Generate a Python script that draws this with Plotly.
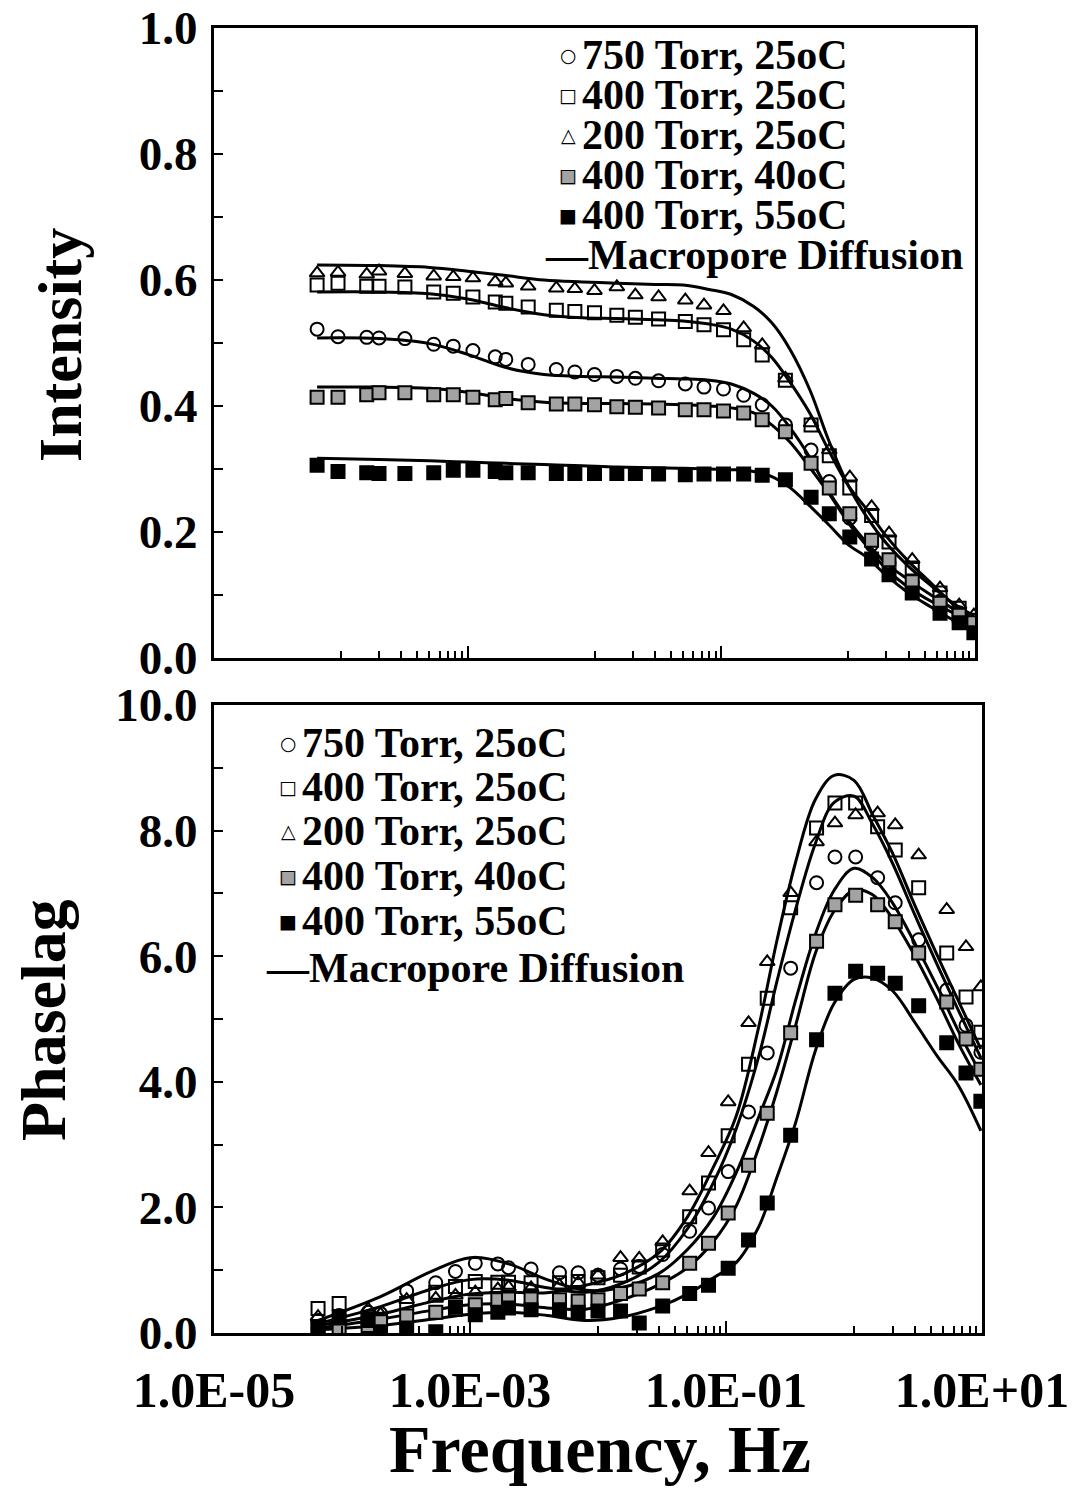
import plotly.graph_objects as go

# ---------------- data ----------------
# measurement frequencies, Hz
freq = [6.5e-5, 9.5e-5, 1.6e-4, 2.0e-4, 3.2e-4, 5.4e-4, 7.7e-4, 1.1e-3, 1.65e-3, 2.0e-3,
        3.0e-3, 5.0e-3, 7.0e-3, 1.0e-2, 1.5e-2, 2.1e-2, 3.2e-2, 5.2e-2, 7.3e-2, 0.104,
        0.15, 0.21, 0.32, 0.51, 0.71, 1.03, 1.53, 2.1, 3.2, 5.3, 7.5, 9.8]

# intensity (amplitude ratio)
int_750_25 = [0.522, 0.510, 0.509, 0.508, 0.507, 0.498, 0.495, 0.488, 0.478, 0.474,
              0.466, 0.458, 0.454, 0.450, 0.447, 0.444, 0.440, 0.435, 0.430, 0.427,
              0.417, 0.402, 0.370, 0.330, 0.280, 0.222, 0.180, 0.150, 0.120, 0.090, 0.072, 0.055]
int_400_25 = [0.592, 0.595, 0.590, 0.590, 0.589, 0.581, 0.579, 0.573, 0.565, 0.563,
              0.557, 0.552, 0.550, 0.548, 0.544, 0.541, 0.538, 0.534, 0.529, 0.521,
              0.505, 0.481, 0.441, 0.370, 0.321, 0.270, 0.226, 0.184, 0.143, 0.103, 0.079, 0.060]
int_200_25 = [0.611, 0.612, 0.609, 0.614, 0.610, 0.606, 0.605, 0.603, 0.597, 0.595,
              0.590, 0.587, 0.586, 0.583, 0.589, 0.576, 0.573, 0.568, 0.560, 0.551,
              0.524, 0.497, 0.444, 0.373, 0.330, 0.287, 0.240, 0.198, 0.156, 0.111, 0.084, 0.068]
int_400_40 = [0.414, 0.414, 0.418, 0.421, 0.421, 0.418, 0.418, 0.414, 0.410, 0.412,
              0.405, 0.403, 0.403, 0.402, 0.399, 0.398, 0.397, 0.394, 0.394, 0.392,
              0.389, 0.378, 0.359, 0.309, 0.270, 0.229, 0.187, 0.156, 0.121, 0.087, 0.068, 0.056]
int_400_55 = [0.306, 0.296, 0.294, 0.293, 0.293, 0.294, 0.298, 0.298, 0.296, 0.294,
              0.294, 0.293, 0.293, 0.293, 0.293, 0.293, 0.292, 0.291, 0.292, 0.292,
              0.292, 0.290, 0.283, 0.255, 0.229, 0.192, 0.157, 0.132, 0.103, 0.071, 0.056, 0.040]

# phase lag
ph_750_25 = [0.20, 0.28, 0.33, 0.31, 0.67, 0.80, 0.98, 1.11, 1.10, 1.04,
             1.02, 0.96, 0.96, 0.92, 1.02, 1.06, 1.25, 1.62, 1.99, 2.57,
             3.52, 4.46, 5.81, 7.17, 7.58, 7.58, 7.25, 6.85, 6.26, 5.46, 4.90, 4.47]
ph_400_25 = [0.39, 0.47, 0.25, 0.22, 0.47, 0.65, 0.74, 0.82, 0.81, 0.81,
             0.80, 0.80, 0.82, 0.88, 0.92, 1.05, 1.32, 1.85, 2.39, 3.14,
             4.28, 5.33, 6.77, 8.04, 8.44, 8.44, 8.06, 7.69, 7.09, 6.05, 5.35, 4.79]
ph_200_25 = [0.26, 0.22, 0.38, 0.30, 0.53, 0.55, 0.60, 0.65, 0.70, 0.73,
             0.72, 0.76, 0.80, 0.92, 1.20, 1.19, 1.45, 2.26, 2.87, 3.68,
             4.94, 5.91, 7.01, 7.82, 8.12, 8.25, 8.28, 8.09, 7.61, 6.74, 6.15, 5.51]
ph_400_40 = [0.10, 0.03, 0.12, 0.18, 0.27, 0.33, 0.38, 0.45, 0.53, 0.54,
             0.54, 0.53, 0.51, 0.53, 0.63, 0.70, 0.80, 1.11, 1.43, 1.91,
             2.67, 3.50, 4.78, 6.24, 6.82, 6.97, 6.82, 6.55, 6.05, 5.27, 4.68, 4.20]
ph_400_55 = [0.10, 0.26, 0.20, 0.02, 0.08, 0.02, 0.41, 0.29, 0.33, 0.40,
             0.37, 0.37, 0.33, 0.35, 0.35, 0.16, 0.43, 0.63, 0.76, 1.03,
             1.48, 2.07, 3.15, 4.67, 5.41, 5.76, 5.73, 5.57, 5.21, 4.62, 4.14, 3.69]

# macropore diffusion model curves
model_freq = [6.5e-5, 2e-4, 5e-4, 1e-3, 2e-3, 4e-3, 8e-3, 1.5e-2, 3e-2, 5e-2, 8e-2, 0.12,
              0.18, 0.25, 0.35, 0.5, 0.7, 1.0, 1.4, 2.0, 3.0, 4.5, 6.5, 9.8]
m_int_750_25 = [0.508, 0.507, 0.499, 0.482, 0.461, 0.450, 0.447, 0.446, 0.444, 0.443, 0.441, 0.435,
                0.420, 0.400, 0.365, 0.318, 0.265, 0.219, 0.183, 0.150, 0.124, 0.100, 0.080, 0.060]
m_int_400_25 = [0.581, 0.581, 0.578, 0.570, 0.556, 0.545, 0.540, 0.539, 0.537, 0.535, 0.530, 0.522,
                0.503, 0.477, 0.437, 0.388, 0.330, 0.274, 0.236, 0.193, 0.153, 0.119, 0.088, 0.060]
m_int_200_25 = [0.624, 0.623, 0.620, 0.614, 0.607, 0.600, 0.597, 0.595, 0.593, 0.592, 0.585, 0.577,
                0.558, 0.532, 0.489, 0.425, 0.346, 0.274, 0.224, 0.182, 0.145, 0.115, 0.089, 0.067]
m_int_400_40 = [0.430, 0.430, 0.428, 0.422, 0.412, 0.406, 0.404, 0.404, 0.403, 0.402, 0.400, 0.397,
                0.389, 0.370, 0.342, 0.302, 0.262, 0.215, 0.178, 0.141, 0.112, 0.090, 0.073, 0.056]
m_int_400_55 = [0.317, 0.315, 0.313, 0.311, 0.309, 0.307, 0.305, 0.303, 0.302, 0.301, 0.300, 0.299,
                0.296, 0.288, 0.270, 0.241, 0.212, 0.180, 0.160, 0.131, 0.103, 0.081, 0.062, 0.044]

m_ph_200_25 = [0.12, 0.30, 0.50, 0.62, 0.65, 0.64, 0.76, 0.92, 1.28, 1.85, 2.65, 3.45,
               4.87, 6.25, 7.50, 8.50, 8.88, 8.80, 8.25, 7.64, 6.80, 6.00, 5.30, 4.52]
m_ph_400_25 = [0.15, 0.42, 0.70, 0.85, 0.84, 0.72, 0.65, 0.78, 1.13, 1.66, 2.40, 3.25,
               4.40, 5.60, 6.75, 7.80, 8.45, 8.55, 8.10, 7.48, 6.65, 5.85, 5.15, 4.38]
m_ph_750_25 = [0.20, 0.58, 0.98, 1.20, 1.10, 0.85, 0.68, 0.72, 0.95, 1.33, 1.85, 2.55,
               3.44, 4.20, 5.30, 6.35, 7.05, 7.40, 7.25, 6.85, 6.20, 5.50, 4.82, 4.12]
m_ph_400_40 = [0.08, 0.22, 0.36, 0.45, 0.46, 0.40, 0.38, 0.52, 0.77, 1.04, 1.46, 2.02,
               2.95, 3.85, 4.90, 6.05, 6.72, 7.05, 6.98, 6.60, 6.00, 5.30, 4.62, 3.95]
m_ph_400_55 = [0.05, 0.12, 0.22, 0.30, 0.33, 0.28, 0.20, 0.25, 0.42, 0.62, 0.88, 1.12,
               1.69, 2.48, 3.35, 4.50, 5.25, 5.63, 5.65, 5.45, 4.94, 4.40, 3.95, 3.22]

series_labels = ["750 Torr, 25oC", "400 Torr, 25oC", "200 Torr, 25oC",
                 "400 Torr, 40oC", "400 Torr, 55oC"]
model_label = "Macropore Diffusion"
x_tick_vals = [1e-5, 1e-3, 1e-1, 1e1]
x_tick_text = ["1.0E-05", "1.0E-03", "1.0E-01", "1.0E+01"]
int_ticks = [0.0, 0.2, 0.4, 0.6, 0.8, 1.0]
ph_ticks = [0.0, 2.0, 4.0, 6.0, 8.0, 10.0]

# ---------------- styling ----------------
W, H = 1082, 1489
SERIF = "Liberation Serif"
GRAY = "#a3a3a3"
styles = [
    dict(symbol="circle-open", color="black", line=dict(width=2, color="black")),
    dict(symbol="square-open", color="black", line=dict(width=2, color="black")),
    dict(symbol="triangle-up-open", color="black", line=dict(width=2, color="black")),
    dict(symbol="square", color=GRAY, line=dict(width=2, color="black")),
    dict(symbol="square", color="black", line=dict(width=2, color="black")),
]
MS = 13

fig = go.Figure()

int_data = [int_750_25, int_400_25, int_200_25, int_400_40, int_400_55]
ph_data = [ph_750_25, ph_400_25, ph_200_25, ph_400_40, ph_400_55]
m_int = [m_int_750_25, m_int_400_25, m_int_200_25, m_int_400_40, m_int_400_55]
m_ph = [m_ph_750_25, m_ph_400_25, m_ph_200_25, m_ph_400_40, m_ph_400_55]

for curve in m_int:
    fig.add_trace(go.Scatter(x=model_freq, y=curve, mode="lines", xaxis="x", yaxis="y",
                             line=dict(color="black", width=3, shape="spline"),
                             name=model_label, showlegend=False))
for curve in m_ph:
    fig.add_trace(go.Scatter(x=model_freq, y=curve, mode="lines", xaxis="x2", yaxis="y2",
                             line=dict(color="black", width=3, shape="spline"),
                             name=model_label, showlegend=False))
for lab, ys, st in zip(series_labels, int_data, styles):
    fig.add_trace(go.Scatter(x=freq, y=ys, mode="markers", xaxis="x", yaxis="y", name=lab,
                             marker=dict(size=MS, **st), showlegend=False))
for lab, ys, st in zip(series_labels, ph_data, styles):
    fig.add_trace(go.Scatter(x=freq, y=ys, mode="markers", xaxis="x2", yaxis="y2", name=lab,
                             marker=dict(size=MS, **st), showlegend=False))

minor_vals = [m * 10 ** e for e in (-4, -2, 0) for m in range(1, 10)]
x_tick_font = dict(family=SERIF, size=50, color="black", weight="bold")
y_tick_font = dict(family=SERIF, size=47, color="black", weight="bold")


def xaxis(domain, anchor, labels):
    return dict(type="log", range=[-5, 1], domain=domain, anchor=anchor, automargin=False,
                showline=True, linecolor="black", linewidth=3, mirror=True,
                showgrid=False, zeroline=False,
                ticks="inside", tickmode="array", tickvals=x_tick_vals,
                ticktext=x_tick_text, ticklen=12, tickwidth=2, tickcolor="black",
                showticklabels=labels, tickfont=x_tick_font, ticklabelstandoff=11,
                minor=dict(tickmode="array", tickvals=minor_vals, ticks="inside",
                           ticklen=7, tickwidth=2, tickcolor="black", showgrid=False))


def yaxis(domain, anchor, rng, vals, minor):
    return dict(range=rng, domain=domain, anchor=anchor, automargin=False,
                showline=True, linecolor="black", linewidth=3, mirror=True,
                showgrid=False, zeroline=False,
                ticks="inside", tickmode="array", tickvals=vals,
                ticktext=[f"{v:.1f}" for v in vals], ticklen=9, tickwidth=2,
                tickcolor="black", tickfont=y_tick_font, ticklabelstandoff=4,
                minor=dict(tickmode="array", tickvals=minor, ticks="inside",
                           ticklen=9, tickwidth=2, tickcolor="black", showgrid=False))


fig.update_layout(
    width=W, height=H, margin=dict(l=0, r=0, t=0, b=0, autoexpand=False),
    paper_bgcolor="white", plot_bgcolor="white", showlegend=False,
    xaxis=xaxis([214 / W, 975 / W], "y", False),
    yaxis=yaxis([1 - 658 / H, 1 - 28 / H], "x", [0, 1], int_ticks, [0.1, 0.3, 0.5, 0.7, 0.9]),
    xaxis2=xaxis([214 / W, 982 / W], "y2", True),
    yaxis2=yaxis([1 - 1333 / H, 1 - 705 / H], "x2", [0, 10], ph_ticks, [1, 3, 5, 7, 9]),
)

# axis titles
title_font = dict(family=SERIF, color="black", weight="bold")
fig.add_annotation(text="Intensity", x=60 / W, y=1 - 345 / H, xref="paper", yref="paper",
                   xanchor="center", yanchor="middle",
                   textangle=-90, showarrow=False, font=dict(size=62, **title_font))
fig.add_annotation(text="Phaselag", x=43 / W, y=1 - 1020 / H, xref="paper", yref="paper",
                   xanchor="center", yanchor="middle",
                   textangle=-90, showarrow=False, font=dict(size=64, **title_font))
fig.add_annotation(text="Frequency, Hz", x=600 / W, y=1 - 1449 / H, xref="paper",
                   yref="paper", xanchor="center", yanchor="middle",
                   showarrow=False, font=dict(size=68, **title_font))

# legends (one per panel)
glyphs = [[("○", "black")], [("□", "black")], [("△", "black")],
          [("■", GRAY), ("□", "black")], [("■", "black")]]
legend_font = dict(family=SERIF, size=42, color="black", weight="bold")


def add_legend(sym_x, text_x, dash_x, rows_y):
    for i, (lab, gl) in enumerate(zip(series_labels, glyphs)):
        yy = 1 - rows_y[i] / H
        for ch, col in gl:
            fig.add_annotation(text=ch, x=sym_x / W, y=yy, xref="paper", yref="paper",
                               xanchor="center", yanchor="middle", showarrow=False,
                               font=dict(family="DejaVu Sans", size=19, color=col))
        fig.add_annotation(text=lab, x=text_x / W, y=yy, xref="paper", yref="paper",
                           xanchor="left", yanchor="middle", showarrow=False,
                           borderpad=0, font=legend_font)
    fig.add_annotation(text="\u2014" + model_label, x=dash_x / W, y=1 - rows_y[5] / H,
                       xref="paper", yref="paper", xanchor="left", yanchor="middle",
                       showarrow=False, borderpad=0, font=legend_font)


add_legend(568, 581, 544, [55, 95, 135, 175, 215, 255])
add_legend(288, 301, 265, [743, 787, 831, 876, 921, 968])

fig.write_html("out.html")
